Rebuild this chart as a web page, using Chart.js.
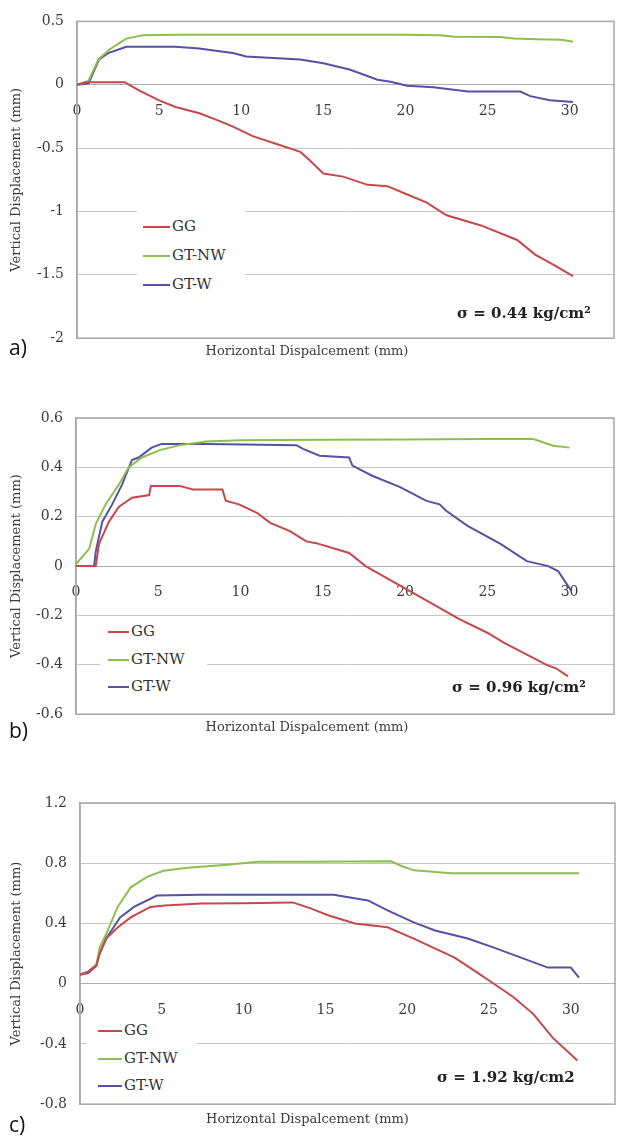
<!DOCTYPE html>
<html>
<head>
<meta charset="utf-8">
<script src="https://cdn.jsdelivr.net/npm/chart.js@4.4.1/dist/chart.umd.min.js"></script>
<style>
    body { margin: 0; background: #fff; }
    #page { position: relative; width: 617px; height: 1140px; overflow: hidden; }
    .panel { position: absolute; left: 0; width: 617px; }
    .legend { position: absolute; background: #fff; font: 15px "DejaVu Serif"; color: #333; }
    .legend-item { position: absolute; white-space: nowrap; line-height: 20px; }
    .legend-item span.swatch { display: inline-block; height: 2px; vertical-align: middle; margin-right: 2px; }
    .sigma { position: absolute; font: bold 15px "DejaVu Serif"; color: #222; white-space: nowrap; line-height: 20px; }
    .tag { position: absolute; left: 9px; font: 21px "Open Sans"; color: #111; line-height: 24px; }
</style>
</head>
<body>
<div id="page">
    <div class="panel" style="top:0;height:370px"><canvas id="chartA"></canvas></div>
    <div class="panel" style="top:370px;height:370px"><canvas id="chartB"></canvas></div>
    <div class="panel" style="top:740px;height:400px"><canvas id="chartC"></canvas></div>
</div>
<script>
const seriesNames = ['GG', 'GT-NW', 'GT-W'];
const seriesColors = ['#c8474a', '#8dbf4f', '#5552a3'];
const xTicks = [0, 5, 10, 15, 20, 25, 30];

// a) sigma = 0.44
const ggAx = [0, 0.5, 1, 2, 2.9, 3.8, 5.0, 6.0, 7.45, 8.5, 9.5, 10.7, 12.2, 13.6, 14.2, 15.0, 16.2, 17.7, 18.9, 20.0, 21.3, 22.5, 24.6, 26.8, 27.9, 29.0, 30.2];
const ggAy = [0, 0.02, 0.02, 0.02, 0.02, -0.046, -0.123, -0.175, -0.225, -0.277, -0.33, -0.405, -0.47, -0.53, -0.6, -0.70, -0.725, -0.79, -0.80, -0.86, -0.93, -1.03, -1.11, -1.225, -1.34, -1.42, -1.51];
const nwAx = [0, 0.7, 1.3, 2.0, 2.6, 3.0, 4.0, 6, 10, 15, 20, 22.1, 23, 25.8, 26.6, 28, 29.5, 30.2];
const nwAy = [0, 0.03, 0.2, 0.28, 0.33, 0.364, 0.39, 0.395, 0.395, 0.395, 0.395, 0.39, 0.378, 0.377, 0.365, 0.36, 0.355, 0.34];
const wAx = [0, 0.7, 1.34, 1.9, 3.0, 6.0, 7.45, 8.1, 9.5, 10.3, 12.2, 13.6, 15.0, 16.6, 18.3, 19.1, 20.1, 21.7, 23.8, 27.0, 27.6, 28.8, 30.2];
const wAy = [0, 0.01, 0.2, 0.25, 0.30, 0.30, 0.287, 0.275, 0.25, 0.223, 0.21, 0.2, 0.17, 0.12, 0.04, 0.023, -0.008, -0.02, -0.054, -0.054, -0.09, -0.123, -0.136];
const yTicksA = [-2, -1.5, -1, -0.5, 0, 0.5];

// b) sigma = 0.96
const ggBx = [0, 1.2, 1.4, 2.0, 2.6, 3.4, 4.45, 4.55, 6.3, 7.1, 8.9, 9.1, 9.9, 11.0, 11.8, 13.0, 14.0, 14.6, 16.6, 17.6, 20.0, 22.9, 23.3, 25.0, 26.0, 28.6, 29.2, 29.9];
const ggBy = [0, 0, 0.09, 0.18, 0.24, 0.277, 0.288, 0.325, 0.325, 0.31, 0.31, 0.265, 0.25, 0.216, 0.175, 0.142, 0.1, 0.093, 0.053, 0, -0.09, -0.2, -0.215, -0.27, -0.31, -0.4, -0.415, -0.447];
const nwBx = [0, 0.8, 1.2, 1.8, 2.6, 3.2, 4.0, 5.1, 6.3, 7.9, 10, 15, 20, 25, 27.8, 29.0, 30.0];
const nwBy = [0.008, 0.07, 0.17, 0.25, 0.33, 0.40, 0.44, 0.47, 0.49, 0.505, 0.51, 0.512, 0.513, 0.515, 0.515, 0.488, 0.48];
const wBx = [0, 1.1, 1.2, 1.6, 2.2, 2.8, 3.4, 3.8, 4.6, 5.2, 8, 13.4, 13.8, 14.8, 16.6, 16.8, 18.0, 19.7, 21.3, 22.1, 22.5, 23.8, 25.8, 27.4, 28.7, 29.3, 29.7, 30.1];
const wBy = [0, 0, 0.06, 0.18, 0.25, 0.33, 0.43, 0.44, 0.48, 0.495, 0.495, 0.49, 0.475, 0.447, 0.44, 0.407, 0.366, 0.32, 0.264, 0.25, 0.224, 0.163, 0.09, 0.02, 0.0, -0.02, -0.06, -0.1];
const yTicksB = [-0.6, -0.4, -0.2, 0, 0.2, 0.4, 0.6];

// c) sigma = 1.92
const ggCx = [0, 0.5, 1.0, 1.2, 1.6, 2.3, 3.1, 4.3, 5.2, 7.4, 10, 13.0, 14.1, 15.2, 16.8, 18.8, 20.4, 22.9, 24.1, 25.3, 26.5, 27.7, 28.9, 30.4];
const ggCy = [0.06, 0.08, 0.12, 0.2, 0.3, 0.373, 0.44, 0.51, 0.52, 0.533, 0.535, 0.54, 0.5, 0.453, 0.4, 0.375, 0.3, 0.173, 0.087, 0, -0.09, -0.2, -0.36, -0.51];
const nwCx = [0, 0.5, 1.0, 1.2, 1.6, 2.3, 3.1, 4.1, 5.1, 6.6, 9.0, 10.9, 14, 19.0, 19.7, 20.4, 22.7, 26, 30.5];
const nwCy = [0.06, 0.08, 0.13, 0.24, 0.33, 0.51, 0.64, 0.71, 0.75, 0.77, 0.79, 0.81, 0.81, 0.813, 0.78, 0.753, 0.733, 0.733, 0.733];
const wCx = [0, 0.5, 1.0, 1.2, 1.6, 2.45, 3.3, 4.7, 7.4, 10, 13.5, 15.5, 17.6, 18.8, 20.4, 21.7, 23.7, 25.3, 28.6, 30.0, 30.5];
const wCy = [0.06, 0.07, 0.12, 0.2, 0.3, 0.44, 0.51, 0.585, 0.59, 0.59, 0.59, 0.59, 0.553, 0.487, 0.407, 0.353, 0.3, 0.24, 0.107, 0.107, 0.04];
const yTicksC = [-0.8, -0.4, 0, 0.4, 0.8, 1.2];

function toPoints(xs, ys) {
    return xs.map((x, i) => ({ x: x, y: ys[i] }));
}

const plotFrame = {
    id: 'plotFrame',
    beforeDatasetsDraw(chart) {
        const { ctx, chartArea } = chart;
        ctx.save();
        ctx.strokeStyle = '#a8a8a8';
        ctx.lineWidth = 1.5;
        ctx.strokeRect(chartArea.left, chartArea.top, chartArea.right - chartArea.left, chartArea.bottom - chartArea.top);
        ctx.restore();
    }
};

function makeChart(canvasId, opts) {
    const datasets = opts.series.map((s, i) => ({
        label: seriesNames[i],
        data: toPoints(s[0], s[1]),
        borderColor: seriesColors[i],
        backgroundColor: seriesColors[i],
        borderWidth: 2,
        pointRadius: 0,
        tension: 0
    }));

    const chart = new Chart(document.getElementById(canvasId), {
        type: 'line',
        data: { datasets: datasets },
        options: {
            responsive: true,
            maintainAspectRatio: false,
            animation: false,
            layout: { padding: opts.padding },
            scales: {
                x: {
                    type: 'linear',
                    min: 0,
                    max: 32.7,
                    position: { y: 0 },
                    afterBuildTicks: scale => { scale.ticks = xTicks.map(v => ({ value: v })); },
                    grid: { display: false, drawTicks: false },
                    border: { display: true, color: '#b0b0b0', width: 1 },
                    ticks: {
                        padding: 18,
                        color: '#3c3c3c',
                        font: { family: 'DejaVu Serif', size: 14 },
                        maxRotation: 0
                    }
                },
                y: {
                    type: 'linear',
                    min: opts.yTicks[0],
                    max: opts.yTicks[opts.yTicks.length - 1],
                    afterBuildTicks: scale => { scale.ticks = opts.yTicks.map(v => ({ value: v })); },
                    afterFit: scale => { scale.width = opts.axisWidth; },
                    grid: { color: '#c6c6c6', lineWidth: 1, drawTicks: false },
                    border: { display: true, color: '#a8a8a8', width: 1.5 },
                    ticks: {
                        padding: 13,
                        color: '#3c3c3c',
                        font: { family: 'DejaVu Serif', size: 14 },
                        callback: v => String(v)
                    },
                    title: {
                        display: true,
                        text: 'Vertical Displacement (mm)',
                        color: '#3c3c3c',
                        font: { family: 'DejaVu Serif', size: 13 },
                        padding: { top: 9, bottom: 0 }
                    }
                }
            },
            plugins: {
                legend: { display: false },
                tooltip: { enabled: false },
                title: {
                    display: true,
                    position: 'bottom',
                    text: 'Horizontal Dispalcement (mm)',
                    color: '#3c3c3c',
                    font: { family: 'DejaVu Serif', size: 13, weight: 'normal' },
                    padding: { top: opts.titleGap, bottom: 0 }
                }
            }
        },
        plugins: [plotFrame]
    });

    // legend box inside the plot, and the load annotation
    const panel = document.getElementById(canvasId).parentNode;
    const legend = document.createElement('div');
    legend.className = 'legend';
    legend.style.left = opts.legend.left + 'px';
    legend.style.top = opts.legend.top + 'px';
    legend.style.width = opts.legend.width + 'px';
    legend.style.height = opts.legend.height + 'px';
    seriesNames.forEach((name, i) => {
        const item = document.createElement('div');
        item.className = 'legend-item';
        item.style.left = opts.legend.padLeft + 'px';
        item.style.top = (opts.legend.firstRow + i * opts.legend.rowGap - 10) + 'px';
        item.innerHTML = '<span class="swatch" style="width:' + opts.legend.swatch + 'px;background:' + seriesColors[i] + '"></span>' + name;
        legend.appendChild(item);
    });
    panel.appendChild(legend);

    const sigma = document.createElement('div');
    sigma.className = 'sigma';
    sigma.style.left = opts.sigma.left + 'px';
    sigma.style.top = (opts.sigma.y - 10) + 'px';
    sigma.innerHTML = opts.sigma.text;
    panel.appendChild(sigma);

    const tag = document.createElement('div');
    tag.className = 'tag';
    tag.style.top = (opts.tagY - 13) + 'px';
    tag.textContent = opts.tag;
    panel.appendChild(tag);

    return chart;
}

makeChart('chartA', {
    series: [[ggAx, ggAy], [nwAx, nwAy], [wAx, wAy]],
    yTicks: yTicksA,
    axisWidth: 77,
    padding: { top: 14, right: 3, left: 0, bottom: 10.2 },
    titleGap: 6,
    legend: { left: 137, top: 211, width: 108, height: 86, padLeft: 6, swatch: 27, firstRow: 15, rowGap: 29 },
    sigma: { left: 457, y: 313, text: 'σ = 0.44 kg/cm²' },
    tag: 'a)',
    tagY: 348
});

makeChart('chartB', {
    series: [[ggBx, ggBy], [nwBx, nwBy], [wBx, wBy]],
    yTicks: yTicksB,
    axisWidth: 76,
    padding: { top: 48, right: 3, left: 0, bottom: 4.2 },
    titleGap: 6,
    legend: { left: 100, top: 247, width: 107, height: 80, padLeft: 8, swatch: 21, firstRow: 14, rowGap: 27.5 },
    sigma: { left: 452, y: 317, text: 'σ = 0.96 kg/cm²' },
    tag: 'b)',
    tagY: 361
});

makeChart('chartC', {
    series: [[ggCx, ggCy], [nwCx, nwCy], [wCx, wCy]],
    yTicks: yTicksC,
    axisWidth: 80,
    padding: { top: 63, right: 2, left: 0, bottom: 12.2 },
    titleGap: 8,
    legend: { left: 86, top: 276, width: 110, height: 80, padLeft: 12, swatch: 24, firstRow: 14, rowGap: 27.5 },
    sigma: { left: 437, y: 337, text: 'σ = 1.92 kg/cm2' },
    tag: 'c)',
    tagY: 385
});
</script>
</body>
</html>
